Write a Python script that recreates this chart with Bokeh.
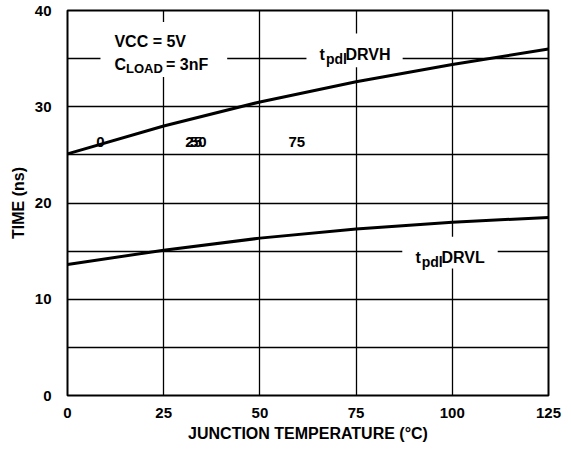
from bokeh.plotting import figure
from bokeh.models import Range1d, FixedTicker, Label
from bokeh.embed import file_html
from bokeh.resources import INLINE

# Data
temp_c = [0, 25, 50, 75, 100, 125]
tpdl_drvh = [25.1, 28.0, 30.5, 32.6, 34.4, 36.0]
tpdl_drvl = [13.6, 15.1, 16.35, 17.3, 18.0, 18.5]
x_ticks = [0, 25, 50, 75, 100, 125]
y_ticks = [0, 10, 20, 30, 40]
y_grid = [0, 5, 10, 15, 20, 25, 30, 35, 40]

FONT = "Liberation Sans"

p = figure(width=571, height=449, output_backend="svg", toolbar_location=None,
           x_range=Range1d(0, 125), y_range=Range1d(0, 40),
           min_border_left=67, min_border_right=23, min_border_top=10,
           min_border_bottom=54)
p.background_fill_color = "white"
p.border_fill_color = "white"
p.outline_line_color = "black"
p.outline_line_width = 2

p.xaxis.ticker = FixedTicker(ticks=x_ticks)
p.yaxis.ticker = FixedTicker(ticks=y_ticks)
p.xgrid.ticker = FixedTicker(ticks=x_ticks)
p.ygrid.ticker = FixedTicker(ticks=y_grid)
for g in (p.xgrid, p.ygrid):
    g.grid_line_color = "black"
    g.grid_line_width = 1.3

for ax in (p.xaxis, p.yaxis):
    ax.axis_line_color = None
    ax.major_tick_in = 0
    ax.major_tick_out = 0
    ax.minor_tick_line_color = None
    ax.major_label_text_font = FONT
    ax.major_label_text_font_style = "bold"
    ax.major_label_text_font_size = "15px"
    ax.major_label_text_color = "black"
    ax.axis_label_text_font = FONT
    ax.axis_label_text_font_style = "bold"
    ax.axis_label_text_font_size = "16px"
    ax.axis_label_text_color = "black"

p.xaxis.axis_label = "JUNCTION TEMPERATURE (°C)"
p.yaxis.axis_label = "TIME (ns)"
p.xaxis.major_label_standoff = 12
p.xaxis.axis_label_standoff = 4
p.yaxis.major_label_standoff = 16
p.yaxis.axis_label_standoff = 5

# white label backgrounds
p.quad(left=[8.57, 62.1, 87.0], right=[41.5, 87.1, 111.8],
       bottom=[33.1, 34.1, 13.2], top=[38.8, 37.6, 16.5],
       fill_color="white", line_color=None)

def lab(x, y, t, size="16px", align="left", baseline="alphabetic"):
    p.add_layout(Label(x=x, y=y, text=t, text_font=FONT, text_font_style="bold",
                       text_font_size=size, text_align=align,
                       text_baseline=baseline, text_color="black"))

# stray labels in the original
lab(8.57, 26.35, "0", size="15px", align="center", baseline="middle")
lab(32.8, 26.35, "25", size="15px", align="center", baseline="middle")
lab(34.0, 26.35, "50", size="15px", align="center", baseline="middle")
lab(59.6, 26.35, "75", size="15px", align="center", baseline="middle")

p.line(temp_c, tpdl_drvh, line_color="black", line_width=3)
p.line(temp_c, tpdl_drvl, line_color="black", line_width=3)

# condition text
lab(12.2, 36.75, "VCC = 5V")
lab(12.2, 34.4, "C")
lab(15.2, 34.0, "LOAD", size="13px")
lab(25.6, 34.4, "= 3nF")

# curve labels
lab(65.5, 35.43, "t")
lab(67.18, 34.94, "pdl", size="14px")
lab(72.25, 35.43, "DRVH")

lab(90.45, 14.3, "t")
lab(92.05, 13.82, "pdl", size="14px")
lab(97.18, 14.3, "DRVL")

open("out.html", "w").write(file_html(p, INLINE))
